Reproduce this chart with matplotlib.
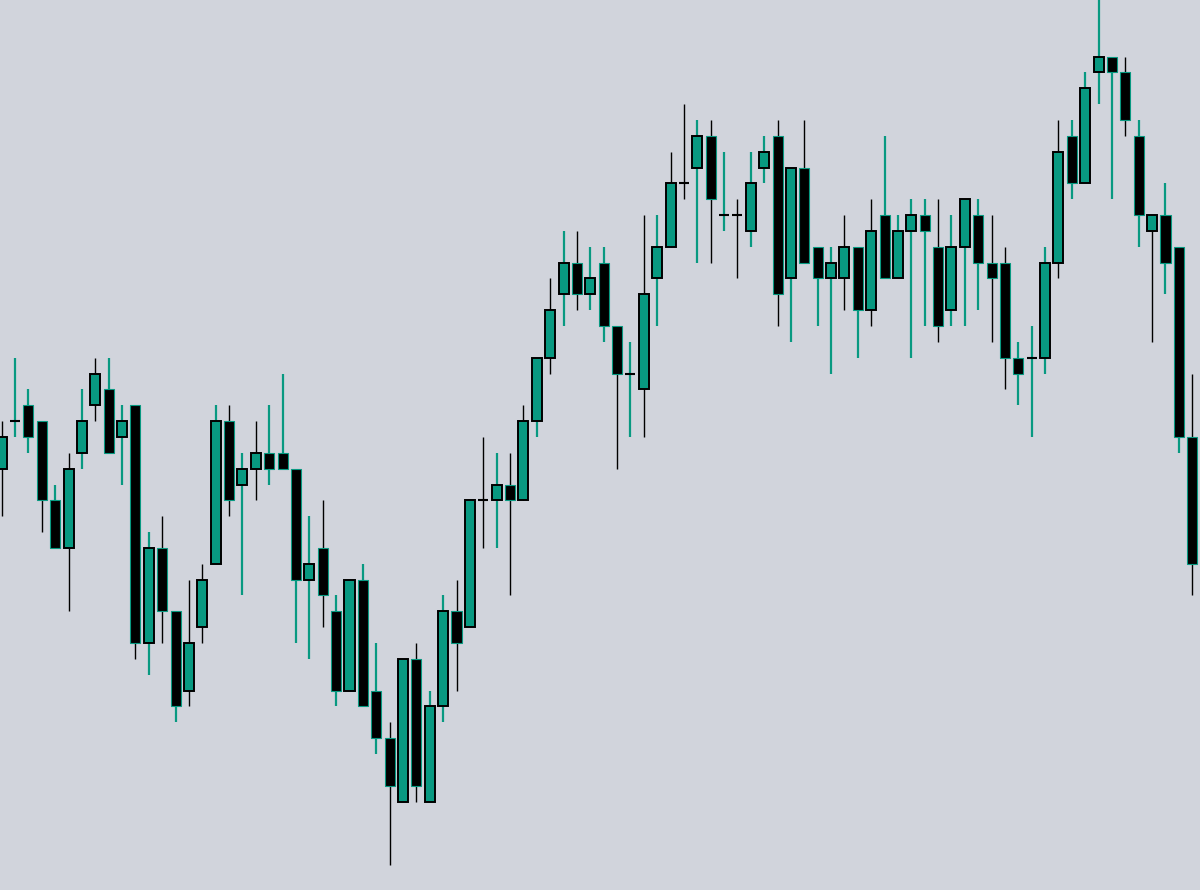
import numpy as np
import matplotlib as mpl
mpl.use("Agg")
import matplotlib.pyplot as plt

BG = "#D1D4DC"
UP = "#089981"
DOWN = "#000000"

# OHLC in price steps, one entry per bar
opens = [25, 28, 29, 28, 23, 20, 26, 29, 30, 27,
         29, 14, 20, 16, 11, 15, 19, 28, 24, 25,
         26, 26, 25, 18, 20, 16, 11, 18, 11, 8,
         4, 13, 4, 10, 16, 15, 23, 23, 24, 23,
         28, 32, 36, 38, 36, 38, 34, 31, 30, 37,
         39, 43, 44, 46, 41, 41, 40, 44, 46, 37,
         44, 39, 37, 37, 39, 35, 41, 37, 40, 41,
         39, 35, 39, 41, 38, 38, 32, 32, 32, 38,
         46, 43, 50, 51, 50, 46, 40, 41, 39, 27]
closes = [27, 28, 27, 23, 20, 25, 28, 31, 26, 28,
          14, 20, 16, 10, 14, 18, 28, 23, 25, 26,
          25, 25, 18, 19, 17, 11, 18, 10, 8, 5,
          13, 5, 10, 16, 14, 23, 23, 24, 23, 28,
          32, 35, 38, 36, 37, 34, 31, 31, 36, 39,
          43, 43, 46, 42, 41, 41, 43, 45, 36, 44,
          38, 37, 38, 39, 35, 40, 37, 40, 41, 40,
          34, 39, 42, 38, 37, 32, 31, 32, 38, 45,
          43, 49, 51, 50, 47, 41, 41, 38, 27, 19]
highs = [28, 32, 30, 28, 24, 26, 30, 32, 32, 29,
         29, 21, 22, 16, 18, 19, 29, 29, 26, 28,
         29, 31, 25, 22, 23, 17, 18, 19, 14, 9,
         13, 14, 11, 17, 18, 23, 27, 26, 26, 29,
         32, 37, 40, 40, 39, 39, 34, 33, 41, 41,
         45, 48, 47, 47, 45, 42, 45, 46, 47, 44,
         47, 39, 39, 41, 39, 42, 46, 41, 42, 42,
         42, 41, 42, 42, 41, 39, 33, 34, 39, 47,
         47, 50, 55, 51, 51, 47, 41, 43, 39, 31]
lows = [22, 27, 26, 21, 20, 16, 25, 28, 26, 24,
        13, 12, 14, 9, 10, 14, 19, 22, 17, 23,
        24, 25, 14, 13, 15, 10, 11, 10, 7, 0,
        4, 4, 4, 9, 11, 15, 20, 20, 17, 23,
        27, 31, 34, 35, 35, 33, 25, 27, 27, 34,
        39, 42, 38, 38, 40, 37, 39, 43, 34, 33,
        38, 34, 31, 35, 32, 34, 37, 37, 32, 34,
        33, 34, 34, 35, 33, 30, 29, 27, 31, 37,
        42, 43, 48, 42, 46, 39, 33, 36, 26, 17]

# wick colour per bar (B = black, T = teal), as seen on the chart
wick_style = ("BTTBTBTBTT" "BTBTBBTBTB" "TTTTBTTTTB" "TBTTBTBTBB"
              "TBTBTTBTBT" "BBTBTBTTBT" "BTTBTBTTTT" "BTTTBBTTTB"
              "TTTTBTBTTB")

o = np.array(opens, dtype=float)
c = np.array(closes, dtype=float)
h = np.array(highs, dtype=float)
l = np.array(lows, dtype=float)
x = np.arange(len(o))

fig = plt.figure(figsize=(12, 8.9), dpi=100, facecolor=BG)
ax = fig.add_axes([0, 0, 1, 1])
ax.set_facecolor(BG)

wick_cols = [DOWN if s == "B" else UP for s in wick_style]
wick_lw = [1.0 if s == "B" else 1.6 for s in wick_style]
ax.vlines(x, l, h, colors=wick_cols, linewidths=wick_lw, zorder=1)

w = 0.75
up = c > o
down = c < o
doji = c == o

ax.bar(x[up], (c - o)[up], bottom=o[up], width=w, color=UP,
       edgecolor=DOWN, linewidth=1.4, zorder=2)
ax.bar(x[down], (o - c)[down], bottom=c[down], width=w, color=DOWN,
       edgecolor=UP, linewidth=0.8, zorder=2)
ax.hlines(o[doji], x[doji] - w / 2, x[doji] + w / 2, colors=DOWN,
          linewidth=1.5, zorder=3)

ax.set_xlim(-0.127, 89.58)
ax.set_ylim(-1.58, 54.57)
ax.axis("off")

fig.savefig("out.png", dpi=100, facecolor=BG)
